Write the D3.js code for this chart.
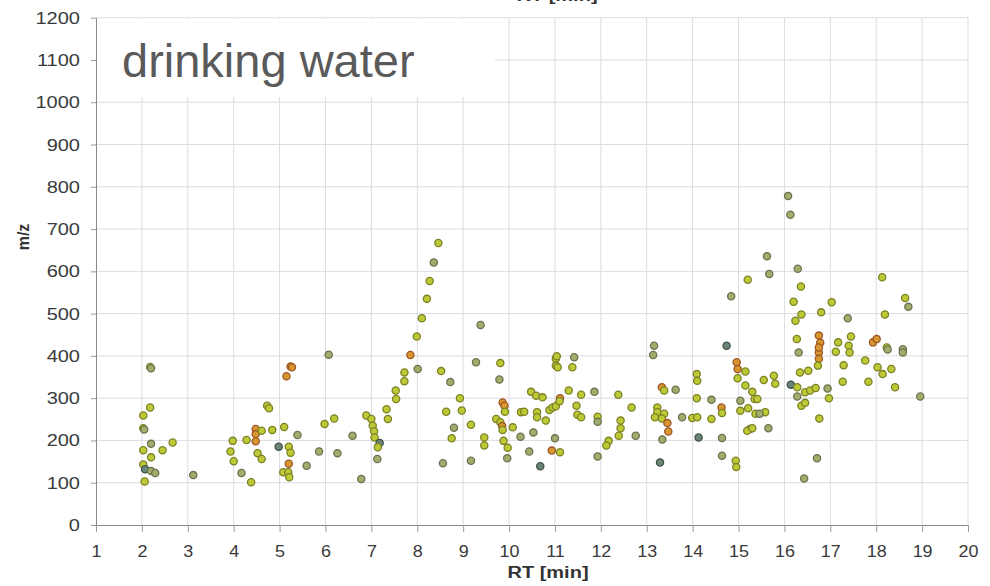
<!DOCTYPE html>
<html>
<head>
<meta charset="utf-8">
<script src="https://cdn.jsdelivr.net/npm/d3@7"></script>
<style>
  html, body { margin: 0; padding: 0; background: #fff; }
  svg { display: block; font-family: "Liberation Sans", Arial, sans-serif; }
</style>
</head>
<body>
<svg id="chart" width="990" height="586"></svg>
<script>
// Retention time (min), m/z and tone class of each detected feature
// tone: y = yellow-green, g = grey-green, o = orange, b = dark teal
const featuresLow = [
  [2.18,374,'y'],[2.2,371,'g'],[2.18,278,'y'],[2.03,259,'y'],[2.03,229,'y'],[2.05,226,'g'],
  [2.2,192,'g'],[2.03,177,'y'],[2.45,177,'y'],[2.67,195,'y'],[2.2,160,'y'],[2.03,143,'y'],
  [2.07,132,'b'],[2.2,128,'g'],[2.29,123,'g'],[2.06,103,'y'],[3.12,118,'g'],
  [3.98,199,'y'],[3.93,174,'y'],[4.0,151,'y'],[4.17,123,'g'],[4.38,101,'y'],[4.28,201,'y'],
  [4.48,227,'o'],[4.48,215,'o'],[4.48,198,'o'],[4.61,223,'y'],[4.84,225,'y'],[4.73,282,'y'],
  [4.77,276,'y'],[4.52,170,'y'],[4.61,156,'y'],[5.1,232,'y'],[4.98,185,'b'],[5.2,185,'y'],
  [5.24,171,'y'],[5.2,145,'o'],[5.08,125,'y'],[5.19,125,'y'],[5.21,113,'y'],[5.39,213,'g'],
  [5.59,140,'g'],[5.24,375,'o'],[5.27,373,'o'],[5.15,352,'o'],[5.86,174,'g'],[5.98,239,'y'],
  [6.19,252,'y'],[6.07,403,'g'],[6.26,170,'g']
];
const featuresMid = [
  [6.59,211,'g'],[6.78,109,'g'],[6.89,259,'y'],[7.0,251,'y'],[7.03,235,'y'],[7.06,222,'y'],
  [7.07,207,'y'],[7.18,194,'b'],[7.14,184,'y'],[7.13,156,'g'],[7.33,274,'y'],[7.36,251,'y'],
  [7.53,318,'y'],[7.54,298,'y'],[7.72,361,'y'],[7.72,340,'y'],[7.85,402,'o'],[8.01,369,'g'],
  [7.99,446,'y'],[8.1,489,'y'],[8.21,535,'y'],[8.27,577,'y'],[8.36,621,'g'],[8.46,667,'y'],
  [8.52,364,'y'],[8.72,338,'g'],[8.93,300,'y'],[8.63,268,'y'],[8.97,271,'y'],[8.8,230,'g'],
  [8.75,205,'y'],[8.56,146,'g'],[9.17,237,'y'],[9.17,152,'g'],[9.38,473,'g'],[9.28,385,'g'],
  [9.46,207,'y'],[9.46,188,'y'],[9.81,383,'y'],[9.79,344,'g'],[9.72,251,'y'],[9.81,243,'y'],
  [9.86,290,'o'],[9.9,282,'o'],[9.91,268,'y'],[9.85,234,'o'],[9.86,225,'y'],[10.08,231,'y'],
  [9.88,199,'y'],[9.97,183,'y'],[9.96,158,'g'],[10.26,267,'y'],[10.33,268,'y'],[10.25,209,'g'],
  [10.44,174,'g'],[10.48,315,'y'],[10.59,306,'y'],[10.73,302,'y'],[10.61,267,'y'],[10.61,255,'y'],
  [10.8,247,'y'],[10.88,272,'y'],[10.53,219,'g'],[10.68,139,'b'],[10.93,176,'o'],[11.0,205,'g'],
  [11.02,393,'y'],[11.02,377,'y']
];
const featuresLate = [
  [10.95,278,'y'],[11.02,281,'y'],[11.11,300,'o'],[11.1,293,'y'],[11.04,399,'y'],[11.06,373,'y'],
  [11.11,172,'y'],[11.3,318,'y'],[11.42,397,'g'],[11.38,373,'y'],[11.47,282,'y'],[11.49,261,'y'],
  [11.57,255,'y'],[11.57,308,'y'],[11.86,315,'g'],[11.93,256,'y'],[11.93,244,'g'],[11.93,162,'g'],
  [12.17,199,'y'],[12.12,188,'y'],[12.38,308,'y'],[12.43,247,'y'],[12.43,229,'y'],[12.39,211,'y'],
  [12.67,278,'y'],[12.76,211,'g'],[13.16,424,'g'],[13.14,402,'g'],[13.33,326,'o'],[13.38,318,'y'],
  [13.63,320,'g'],[13.23,278,'y'],[13.23,267,'y'],[13.38,263,'y'],[13.18,255,'y'],[13.33,252,'y'],
  [13.45,241,'o'],[13.47,221,'o'],[13.34,202,'g'],[13.29,148,'b'],[13.77,255,'g'],[13.99,253,'y'],
  [14.1,255,'y'],[14.09,300,'y'],[14.09,357,'y'],[14.1,341,'y'],[14.13,207,'b'],[14.41,296,'g'],
  [14.41,251,'y'],[14.63,278,'o'],[14.64,265,'y'],[14.64,206,'g'],[14.64,164,'g'],[14.74,424,'b'],
  [14.94,152,'y'],[14.95,137,'y'],[14.96,385,'o'],[14.98,369,'o'],[14.98,347,'y'],[15.15,363,'y'],
  [15.15,330,'y'],[15.3,315,'y'],[15.35,298,'y'],[15.04,294,'g'],[15.04,270,'y'],[15.21,276,'y'],
  [15.25,227,'g'],[15.19,223,'y'],[15.37,263,'y']
];
const featuresEnd = [
  [15.62,636,'g'],[15.67,594,'g'],[15.2,580,'y'],[14.84,541,'g'],[16.2,528,'y'],[16.24,483,'y'],
  [16.27,440,'y'],[16.31,408,'g'],[15.77,353,'y'],[15.8,334,'y'],[15.55,343,'y'],[16.14,332,'b'],
  [15.58,267,'y'],[15.41,298,'y'],[15.46,263,'g'],[15.3,229,'y'],[15.65,229,'g'],[16.08,778,'g'],
  [16.13,734,'g'],[16.29,606,'g'],[16.36,564,'y'],[16.37,498,'y'],[16.8,503,'y'],[17.03,527,'y'],
  [17.38,489,'g'],[17.45,446,'y'],[17.17,432,'y'],[16.75,448,'o'],[16.78,431,'o'],[16.75,408,'o'],
  [16.75,393,'o'],[16.73,377,'y'],[16.75,420,'o'],[18.13,586,'y'],[18.63,537,'y'],[18.7,516,'g'],
  [18.19,498,'y'],[17.93,432,'o'],[18.01,440,'o'],[18.23,420,'y'],[18.58,416,'g'],[17.12,410,'y'],
  [17.4,424,'y'],[17.42,408,'y'],[17.29,378,'y'],[17.27,339,'y'],[17.76,389,'y'],[18.25,415,'g'],
  [18.58,408,'g'],[18.03,373,'y'],[18.14,357,'y'],[18.33,369,'y'],[17.83,339,'y'],[18.41,326,'y'],
  [18.96,304,'g'],[16.34,361,'y'],[16.52,365,'y'],[16.28,326,'y'],[16.45,314,'y'],[16.56,318,'y'],
  [16.68,324,'y'],[16.28,304,'g'],[16.37,282,'y'],[16.45,289,'y'],[16.94,323,'g'],[16.97,300,'y'],
  [16.76,252,'y'],[16.71,158,'g'],[16.43,110,'g']
];

const xTicks = d3.range(1, 21);             // 1 … 20 min
const yTicks = d3.range(0, 1201, 100);      // 0 … 1200
const xTitle = "RT [min]";
const yTitle = "m/z";
const sampleLabel = "drinking water";

const toneFill   = { y: "#bdca36", g: "#a2ad6c", o: "#d8962e", b: "#6c8676" };
const toneStroke = { y: "#7b8226", g: "#6a7250", o: "#9c5628", b: "#3e5048" };

const features = [...featuresLow, ...featuresMid, ...featuresLate, ...featuresEnd]
  .map(([rt, mz, tone]) => ({ rt, mz, tone }));

const svg = d3.select("#chart");
const x = d3.scaleLinear().domain([1, 20]).range([96, 968]);
const y = d3.scaleLinear().domain([0, 1200]).range([525, 17.7]);

// grid
const grid = svg.append("g").attr("stroke", "#dcdce2").attr("stroke-width", 1);
grid.selectAll(".gx").data(xTicks.slice(1)).join("line")
  .attr("x1", d => x(d)).attr("x2", d => x(d))
  .attr("y1", y(1200)).attr("y2", y(0));
grid.selectAll(".gy").data(yTicks.slice(1)).join("line")
  .attr("x1", x(1)).attr("x2", x(20))
  .attr("y1", d => y(d)).attr("y2", d => y(d));

// white label panel in the upper-left corner
svg.append("rect")
  .attr("x", x(1) + 1).attr("y", y(1200) + 1.5)
  .attr("width", 398).attr("height", 78)
  .attr("fill", "#fff");
svg.append("text")
  .attr("x", 122).attr("y", 77)
  .attr("font-size", 47)
  .attr("fill", "#5a5a5a")
  .text(sampleLabel);

// axes
const yAxis = svg.append("g").attr("transform", `translate(${x(1)},0)`)
  .call(d3.axisLeft(y).tickValues(yTicks).tickFormat(d3.format("d"))
    .tickSize(5).tickSizeOuter(0));
const xAxis = svg.append("g").attr("transform", `translate(0,${y(0)})`)
  .call(d3.axisBottom(x).tickValues(xTicks).tickFormat(d3.format("d"))
    .tickSize(7).tickSizeOuter(0));

[yAxis, xAxis].forEach(a => {
  a.select(".domain").attr("stroke", "#8a8a8a");
  a.selectAll(".tick line").attr("stroke", "#9a9a9a");
  a.selectAll("text").attr("fill", "#3a3a3a").attr("font-size", 16)
    .attr("font-family", "'Liberation Sans', Arial, sans-serif");
});
yAxis.selectAll("text")
  .attr("x", null).attr("dy", null)
  .attr("transform", "translate(-16,5.5) scale(1.25,1)");
xAxis.selectAll("text")
  .attr("y", null).attr("dy", null)
  .attr("transform", "translate(0,31.7) scale(1.12,1)");

// axis titles (the upper copy sits at the top edge of the frame)
svg.append("text")
  .attr("transform", `translate(${(x(1) + x(20)) / 2 + 16},578) scale(1.25,1)`)
  .attr("text-anchor", "middle").attr("font-weight", "bold")
  .attr("font-size", 16).attr("fill", "#333")
  .text(xTitle);
svg.append("text")
  .attr("transform", `translate(${(x(1) + x(20)) / 2 + 25},1) scale(1.25,1)`)
  .attr("text-anchor", "middle").attr("font-weight", "bold")
  .attr("font-size", 16).attr("fill", "#333")
  .text(xTitle);
svg.append("text")
  .attr("transform", `translate(29,237) rotate(-90)`)
  .attr("text-anchor", "middle").attr("font-weight", "bold")
  .attr("font-size", 16).attr("fill", "#333")
  .text(yTitle);

// features
svg.append("g").selectAll("circle").data(features).join("circle")
  .attr("cx", d => x(d.rt))
  .attr("cy", d => y(d.mz))
  .attr("r", 3.6)
  .attr("fill", d => toneFill[d.tone])
  .attr("stroke", d => toneStroke[d.tone])
  .attr("stroke-width", 1.3);
</script>
</body>
</html>
